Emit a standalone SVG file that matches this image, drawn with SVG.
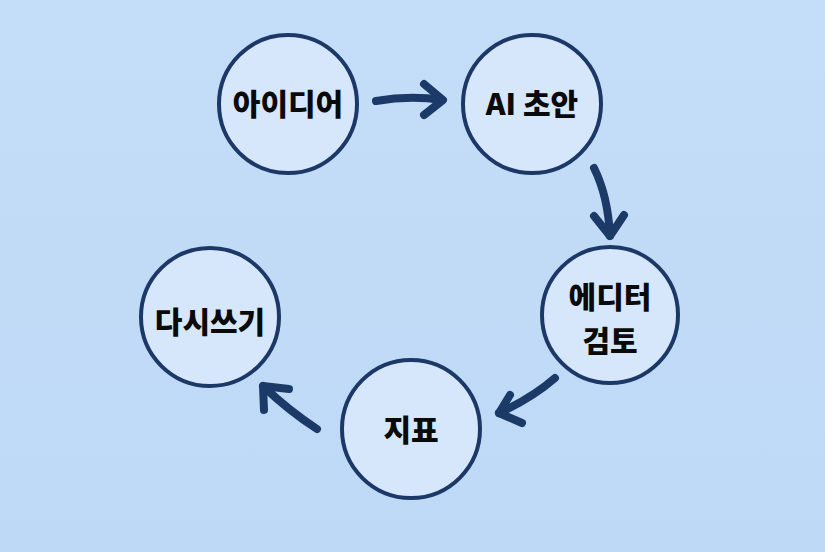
<svg xmlns="http://www.w3.org/2000/svg" width="825" height="552" viewBox="0 0 825 552">
<defs>
<linearGradient id="bg" x1="0" y1="0" x2="0" y2="1">
<stop offset="0" stop-color="#c4ddf8"/>
<stop offset="1" stop-color="#bed9f6"/>
</linearGradient>
<style>
.node circle{fill:#d6e7fc;stroke:#1c3866;stroke-width:4}
.node text{font-family:"Noto Sans CJK KR","Noto Sans",sans-serif;font-weight:900;font-size:30px;fill:#0a0a0a;text-anchor:middle}
.conn path{fill:none;stroke:#1c3a68;stroke-width:8;stroke-linecap:round;stroke-linejoin:round}
</style>
</defs>
<rect width="825" height="552" fill="url(#bg)"/>
<g id="node-idea" class="node"><circle cx="288" cy="104" r="69"/><text x="288" y="115">아이디어</text></g>
<g id="node-ai" class="node"><circle cx="532" cy="104" r="69"/><text x="532" y="115">AI 초안</text></g>
<g id="node-editor" class="node"><circle cx="610" cy="315" r="68"/><text x="610" y="308">에디터</text><text x="610" y="352">검토</text></g>
<g id="node-metric" class="node"><circle cx="411" cy="429" r="69"/><text x="411" y="441">지표</text></g>
<g id="node-rewrite" class="node"><circle cx="210" cy="317" r="69"/><text x="210" y="333">다시쓰기</text></g>
<g id="connectors" class="conn">
<path d="M376 101 Q410 95 442 100"/><path d="M424 84 L443 100 L424 115"/>
<path d="M594 168 Q608 196 610 236"/><path d="M594 216 L610 236 L624 215"/>
<path d="M555 378 Q532 398 499 413"/><path d="M510 395 L499 413 L522 423"/>
<path d="M317 429 Q288 410 263 386"/><path d="M264 410 L263 386 L289 389"/>
</g>
</svg>
